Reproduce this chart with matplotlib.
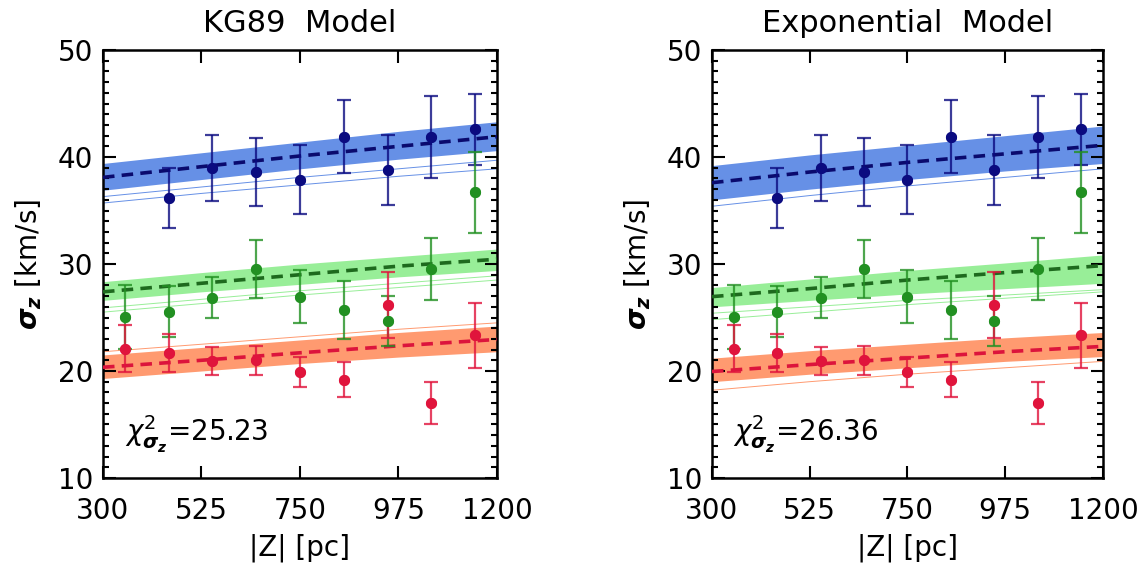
import numpy as np
import matplotlib
matplotlib.use("Agg")
import matplotlib.pyplot as plt
from matplotlib.ticker import MultipleLocator, FixedLocator

plt.rcParams['font.family'] = ['DejaVu Sans']
plt.rcParams['mathtext.fontset'] = 'custom'
plt.rcParams['mathtext.bf'] = 'DejaVu Sans:italic:bold'
plt.rcParams['mathtext.it'] = 'DejaVu Sans:italic'
plt.rcParams['mathtext.rm'] = 'DejaVu Sans'

# data points (same in both panels)
z_blue = [450, 550, 650, 750, 850, 950, 1050, 1150]
s_blue = [36.2, 39.0, 38.6, 37.9, 41.9, 38.8, 41.9, 42.6]
e_blue = [2.8, 3.1, 3.15, 3.25, 3.4, 3.3, 3.85, 3.3]

z_green = [350, 450, 550, 650, 750, 850, 950, 1050, 1150]
s_green = [25.05, 25.55, 26.85, 29.5, 26.95, 25.7, 24.7, 29.5, 36.7]
e_green = [3.0, 2.4, 1.9, 2.7, 2.45, 2.7, 2.35, 2.9, 3.8]

z_red = [350, 450, 550, 650, 750, 850, 950, 1050, 1150]
s_red = [22.1, 21.7, 20.9, 21.0, 19.9, 19.2, 26.15, 17.0, 23.35]
e_red = [2.2, 1.75, 1.3, 1.35, 1.4, 1.65, 3.1, 1.95, 3.05]

# model curves sampled at these heights
zgrid = [300, 525, 750, 975, 1200]

kg_blue_fit = [38.1, 39.1, 40.1, 41.0, 41.9]
kg_blue_hi = [39.4, 40.4, 41.4, 42.4, 43.3]
kg_blue_lo = [36.9, 37.9, 38.9, 39.8, 40.6]
kg_blue_extra = [[36.3, 37.2, 38.1, 38.9, 39.7], [35.7, 36.6, 37.4, 38.2, 38.9]]

kg_green_fit = [27.4, 28.2, 29.0, 29.8, 30.45]
kg_green_hi = [28.35, 29.2, 30.0, 30.7, 31.4]
kg_green_lo = [26.6, 27.4, 28.1, 28.8, 29.4]
kg_green_extra = [[25.9, 26.7, 27.5, 28.2, 28.9], [25.5, 26.3, 27.1, 27.8, 28.5]]

kg_red_fit = [20.35, 21.0, 21.7, 22.35, 22.95]
kg_red_hi = [21.5, 22.2, 22.9, 23.6, 24.2]
kg_red_lo = [19.3, 20.0, 20.7, 21.3, 21.8]
kg_red_extra = [[21.8, 22.5, 23.2, 23.9, 24.5]]

ex_blue_fit = [37.6, 38.6, 39.5, 40.3, 41.1]
ex_blue_hi = [39.2, 40.2, 41.1, 42.0, 42.9]
ex_blue_lo = [36.0, 37.0, 37.9, 38.7, 39.4]
ex_blue_extra = [[35.4, 36.4, 37.3, 38.1, 38.9]]

ex_green_fit = [26.95, 27.7, 28.5, 29.2, 29.85]
ex_green_hi = [27.8, 28.6, 29.4, 30.1, 30.85]
ex_green_lo = [26.0, 26.6, 27.2, 27.7, 28.2]
ex_green_extra = [[25.4, 26.0, 26.6, 27.1, 27.6], [24.8, 25.5, 26.2, 26.8, 27.4]]

ex_red_fit = [19.95, 20.6, 21.2, 21.8, 22.3]
ex_red_hi = [21.2, 21.9, 22.5, 23.1, 23.6]
ex_red_lo = [19.0, 19.7, 20.3, 20.9, 21.35]
ex_red_extra = [[18.2, 19.0, 19.7, 20.3, 20.9]]

titles = ["KG89  Model", "Exponential  Model"]
chi2 = ["25.23", "26.36"]

band_col = {'blue': '#6690e6', 'green': '#98ee98', 'red': '#ff9a70'}
fit_col = {'blue': '#0a0a6e', 'green': '#1e6a1e', 'red': '#dc143c'}
pt_col = {'blue': '#0b0b80', 'green': '#229022', 'red': '#e0143c'}

fig = plt.figure(figsize=(11.48, 5.69), dpi=100)
ax1 = fig.add_axes([0.0897, 0.16, 0.3432, 0.752])
ax2 = fig.add_axes([0.6202, 0.16, 0.3406, 0.752])

models = [
    {'blue': (kg_blue_fit, kg_blue_hi, kg_blue_lo, kg_blue_extra),
     'green': (kg_green_fit, kg_green_hi, kg_green_lo, kg_green_extra),
     'red': (kg_red_fit, kg_red_hi, kg_red_lo, kg_red_extra)},
    {'blue': (ex_blue_fit, ex_blue_hi, ex_blue_lo, ex_blue_extra),
     'green': (ex_green_fit, ex_green_hi, ex_green_lo, ex_green_extra),
     'red': (ex_red_fit, ex_red_hi, ex_red_lo, ex_red_extra)},
]
points = {'blue': (z_blue, s_blue, e_blue),
          'green': (z_green, s_green, e_green),
          'red': (z_red, s_red, e_red)}

for ax, mod, title, chi in zip([ax1, ax2], models, titles, chi2):
    for c in ['blue', 'green', 'red']:
        fit, hi, lo, extra = mod[c]
        ax.fill_between(zgrid, lo, hi, color=band_col[c], lw=0, zorder=1)
        for ln in extra:
            ax.plot(zgrid, ln, color=band_col[c], lw=0.7, zorder=1)
        ax.plot(zgrid, fit, color=fit_col[c], lw=2.6, dashes=(3.2, 2.0), zorder=3)
    for c in ['blue', 'green', 'red']:
        z, s, e = points[c]
        ax.errorbar(z, s, yerr=e, fmt='o', color=pt_col[c], ms=7,
                    elinewidth=1.6, capsize=5, capthick=1.6, alpha=0.8, zorder=4)
        ax.plot(z, s, 'o', color=pt_col[c], ms=7, zorder=5)

    ax.set_xlim(300, 1200)
    ax.set_ylim(10, 50)
    ax.xaxis.set_major_locator(FixedLocator([300, 525, 750, 975, 1200]))
    ax.yaxis.set_major_locator(MultipleLocator(10))
    ax.yaxis.set_minor_locator(MultipleLocator(1))
    ax.tick_params(which='both', direction='in', top=True, right=True,
                   labelsize=20, width=1.5)
    ax.tick_params(which='major', length=9)
    ax.tick_params(which='minor', length=4.5)
    ax.tick_params(axis='x', which='major', pad=14)
    ax.tick_params(axis='y', which='major', pad=7)
    for sp in ax.spines.values():
        sp.set_linewidth(1.8)
    ax.set_title(title, fontsize=22, pad=13)
    ax.set_xlabel('|Z| [pc]', fontsize=20, labelpad=6)
    ax.set_ylabel(r'$\mathbf{\sigma_z}$ [km/s]', fontsize=20, labelpad=10)
    ax.text(0.055, 0.085, r'$\chi^2_{\mathbf{\sigma_z}}$=' + chi,
            transform=ax.transAxes, fontsize=20)

fig.savefig('out.png', dpi=100)
